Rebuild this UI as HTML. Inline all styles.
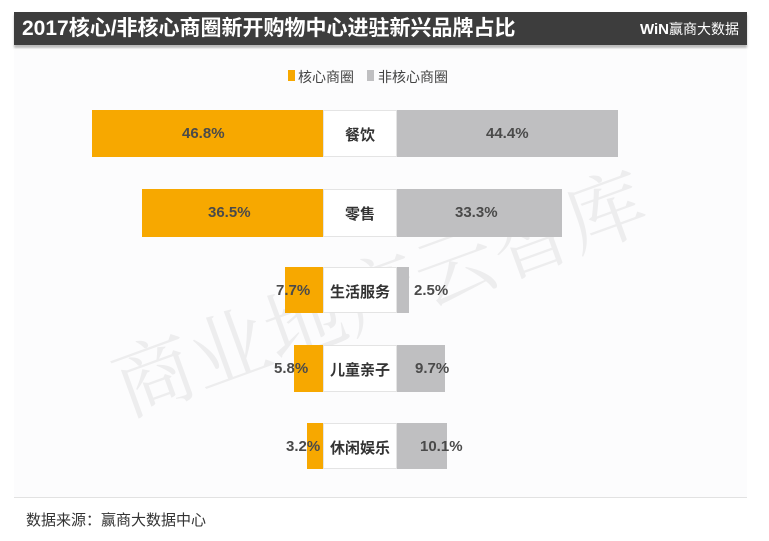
<!DOCTYPE html>
<html><head><meta charset="utf-8"><style>
body{margin:0;width:769px;height:541px;background:#fff;position:relative;overflow:hidden;font-family:"Liberation Sans","Noto Sans CJK SC",sans-serif;}
.a{position:absolute}
.title{left:14px;top:12px;width:733px;height:33px;background:#3d3d3d;box-shadow:0 3px 2px #bbb;color:#fff;}
.o{background:#f7a800}.g{background:#bfbfc1}.w{background:#fff;border:1px solid #e4e4e4;box-sizing:border-box}
.t{font-size:15px;color:#4a4a4a;line-height:1;white-space:nowrap;font-weight:bold}
.c{font-size:15px;color:#333;text-align:center;font-weight:bold}
</style></head><body>
<div class="a" style="left:14px;top:50px;width:733px;height:447px;background:#fcfcfd"></div>
<div class="a title">
<div class="a" style="left:8px;top:4px;font-size:21px;font-weight:bold;line-height:25px">2017核心/非核心商圈新开购物中心进驻新兴品牌占比</div>
<div class="a" style="right:8px;top:8px;font-size:14px;line-height:18px"><b style="font-size:15px">WiN</b>赢商大数据</div>
</div>
<div class="a o" style="left:288px;top:70px;width:7px;height:11px"></div>
<div class="a" style="left:298px;top:67px;font-size:14px;color:#444">核心商圈</div>
<div class="a g" style="left:367px;top:70px;width:7px;height:11px"></div>
<div class="a" style="left:378px;top:67px;font-size:14px;color:#444">非核心商圈</div>

<div class="a" style="left:95px;top:330px;font-size:80px;color:rgba(0,0,0,0.06);transform:rotate(-20deg);transform-origin:0 0;font-family:'Noto Serif CJK SC',serif;white-space:nowrap">商业地产云智库</div>

<!-- row1 -->
<div class="a o" style="left:92px;top:110px;width:231px;height:47px"></div>
<div class="a w" style="left:323px;top:110px;width:74px;height:47px"></div>
<div class="a g" style="left:397px;top:110px;width:221px;height:47px"></div>
<div class="a t" style="left:182px;top:126px">46.8%</div>
<div class="a c" style="left:323px;top:124px;width:74px">餐饮</div>
<div class="a t" style="left:486px;top:126px">44.4%</div>
<!-- row2 -->
<div class="a o" style="left:142px;top:189px;width:181px;height:48px"></div>
<div class="a w" style="left:323px;top:189px;width:74px;height:48px"></div>
<div class="a g" style="left:397px;top:189px;width:165px;height:48px"></div>
<div class="a t" style="left:208px;top:205px">36.5%</div>
<div class="a c" style="left:323px;top:203px;width:74px">零售</div>
<div class="a t" style="left:455px;top:205px">33.3%</div>
<!-- row3 -->
<div class="a o" style="left:285px;top:267px;width:38px;height:46px"></div>
<div class="a w" style="left:323px;top:267px;width:74px;height:46px"></div>
<div class="a g" style="left:397px;top:267px;width:12px;height:46px"></div>
<div class="a t" style="left:276px;top:283px">7.7%</div>
<div class="a c" style="left:323px;top:281px;width:74px">生活服务</div>
<div class="a t" style="left:414px;top:283px">2.5%</div>
<!-- row4 -->
<div class="a o" style="left:294px;top:345px;width:29px;height:47px"></div>
<div class="a w" style="left:323px;top:345px;width:74px;height:47px"></div>
<div class="a g" style="left:397px;top:345px;width:48px;height:47px"></div>
<div class="a t" style="left:274px;top:361px">5.8%</div>
<div class="a c" style="left:323px;top:359px;width:74px">儿童亲子</div>
<div class="a t" style="left:415px;top:361px">9.7%</div>
<!-- row5 -->
<div class="a o" style="left:307px;top:423px;width:16px;height:46px"></div>
<div class="a w" style="left:323px;top:423px;width:74px;height:46px"></div>
<div class="a g" style="left:397px;top:423px;width:50px;height:46px"></div>
<div class="a t" style="left:286px;top:439px">3.2%</div>
<div class="a c" style="left:323px;top:437px;width:74px">休闲娱乐</div>
<div class="a t" style="left:420px;top:439px">10.1%</div>

<div class="a" style="left:14px;top:497px;width:733px;height:1px;background:#e2e2e2"></div>
<div class="a" style="left:26px;top:509px;font-size:15px;color:#333">数据来源：赢商大数据中心</div>
</body></html>
